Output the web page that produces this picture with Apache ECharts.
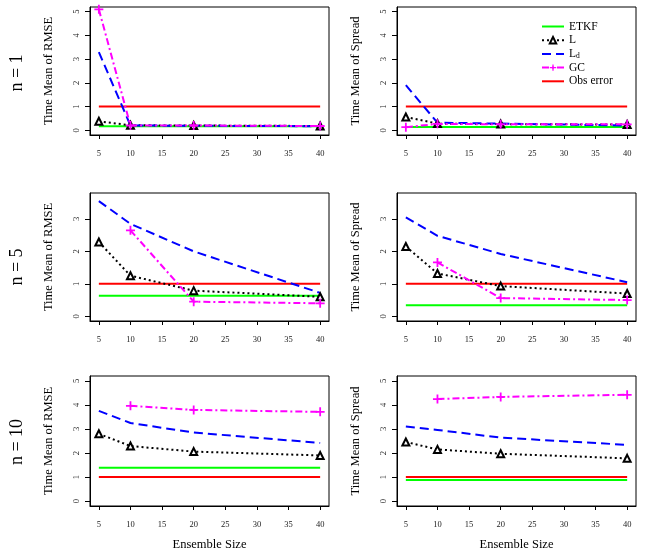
<!DOCTYPE html>
<html>
<head>
	<meta charset="UTF-8">
	<title>Time mean of RMSE and spread</title>
	<script src="https://cdn.jsdelivr.net/npm/echarts@6/dist/echarts.min.js"></script>
	<style>
		html, body { margin: 0; padding: 0; background: #fff; }
		#main { width: 654px; height: 558px; }
	</style>
</head>
<body>
<div id="main"></div>
<script>
	// ensemble sizes on the x axis
	var ensembleSizes = [5, 10, 20, 40];
	var xTicks = [5, 10, 15, 20, 25, 30, 35, 40];

	// panel order: RMSE n=1, Spread n=1, RMSE n=5, Spread n=5, RMSE n=10, Spread n=10
	var panelTitles = ['Time Mean of RMSE', 'Time Mean of Spread'];
	var rowLabels = ['n = 1', 'n = 5', 'n = 10'];

	var etkf = [0.17, 0.14, 0.63, 0.34, 1.39, 0.875];
	var obsError = [1, 1, 1, 1, 1, 1];

	var locL = [
		[0.38, 0.21, 0.20, 0.18],
		[0.56, 0.28, 0.26, 0.24],
		[2.29, 1.25, 0.79, 0.60],
		[2.15, 1.32, 0.93, 0.70],
		[2.80, 2.29, 2.06, 1.90],
		[2.46, 2.15, 1.97, 1.78]
	];
	var locLd = [
		[3.30, 0.20, 0.19, 0.17],
		[1.90, 0.32, 0.28, 0.20],
		[3.55, 2.85, 2.00, 0.72],
		[3.05, 2.48, 1.92, 1.05],
		[3.75, 3.25, 2.85, 2.42],
		[3.10, 2.96, 2.64, 2.34]
	];
	var locGC = [
		[5.10, 0.20, 0.20, 0.18],
		[0.13, 0.27, 0.25, 0.25],
		[null, 2.65, 0.45, 0.40],
		[null, 1.66, 0.56, 0.50],
		[null, 3.96, 3.79, 3.71],
		[null, 4.24, 4.33, 4.42]
	];

	var yTicksWide = [0, 1, 2, 3, 4, 5];
	var yTicksMid = [0, 1, 2, 3];

	var serif = 'Liberation Serif';
	var plusPath = 'path://M4,0 H6 V4 H10 V6 H6 V10 H4 V6 H0 V4 H4 Z';

	var grids = [], xAxes = [], yAxes = [], series = [];
	var lefts = [90, 397];
	var tops = [7, 193, 376];
	var heights = [128, 128, 130];

	function pairs(vals) {
		var out = [];
		for (var i = 0; i < ensembleSizes.length; i++) {
			if (vals[i] != null) out.push([ensembleSizes[i], vals[i]]);
		}
		return out;
	}

	for (var p = 0; p < 6; p++) {
		var row = Math.floor(p / 2), col = p % 2;
		var ticks = row === 1 ? yTicksMid : yTicksWide;
		grids.push({
			left: lefts[col], top: tops[row], width: 239, height: heights[row],
			show: true, borderColor: '#000', borderWidth: 1, backgroundColor: 'transparent'
		});
		xAxes.push({
			type: 'value', gridIndex: p, min: 3.6, max: 41.4,
			name: row === 2 ? 'Ensemble Size' : '',
			nameLocation: 'middle', nameGap: 32,
			nameTextStyle: { fontFamily: serif, fontSize: 12.5, color: '#000' },
			axisLine: { show: true, onZero: false, lineStyle: { color: '#000', width: 1 } },
			axisTick: { show: true, length: 4, customValues: xTicks, lineStyle: { color: '#000' } },
			axisLabel: { customValues: xTicks, margin: 14, fontFamily: serif, fontSize: 8.5, color: '#222' },
			splitLine: { show: false }
		});
		yAxes.push({
			type: 'value', gridIndex: p,
			min: row === 1 ? -0.146 : -0.2,
			max: row === 1 ? 3.8 : 5.2,
			name: panelTitles[col],
			nameLocation: 'middle', nameGap: 35,
			nameTextStyle: { fontFamily: serif, fontSize: 12.5, color: '#000' },
			axisLine: { show: true, onZero: false, lineStyle: { color: '#000', width: 1 } },
			axisTick: { show: true, length: 5, customValues: ticks, lineStyle: { color: '#000' } },
			axisLabel: { customValues: ticks, rotate: 90, margin: 9, fontFamily: serif, fontSize: 8.5, color: '#222' },
			splitLine: { show: false }
		});

		series.push({
			name: 'ETKF', type: 'line', xAxisIndex: p, yAxisIndex: p,
			data: [[5, etkf[p]], [40, etkf[p]]], symbol: 'none',
			lineStyle: { color: '#00ff00', width: 2 }, itemStyle: { color: '#00ff00' },
			silent: true, z: 2
		});
		series.push({
			name: 'L', type: 'line', xAxisIndex: p, yAxisIndex: p,
			data: pairs(locL[p]), symbol: 'triangle', symbolSize: 7,
			lineStyle: { color: '#000', width: 2, type: [2, 3] },
			itemStyle: { color: '#fff', borderColor: '#000', borderWidth: 2 },
			silent: true, z: 3
		});
		series.push({
			name: 'Ld', type: 'line', xAxisIndex: p, yAxisIndex: p,
			data: pairs(locLd[p]), symbol: 'none',
			lineStyle: { color: '#0000ff', width: 2, type: [9, 5] }, itemStyle: { color: '#0000ff' },
			silent: true, z: 3
		});
		series.push({
			name: 'GC', type: 'line', xAxisIndex: p, yAxisIndex: p,
			data: pairs(locGC[p]), symbol: plusPath, symbolSize: 9,
			lineStyle: { color: '#ff00ff', width: 2, type: [7, 3, 2, 3] }, itemStyle: { color: '#ff00ff' },
			silent: true, z: 4
		});
		series.push({
			name: 'Obs error', type: 'line', xAxisIndex: p, yAxisIndex: p,
			data: [[5, obsError[p]], [40, obsError[p]]], symbol: 'none',
			lineStyle: { color: '#ff0000', width: 2 }, itemStyle: { color: '#ff0000' },
			silent: true, z: 2
		});
	}

	var rowY = [73, 267, 442];
	var graphics = rowLabels.map(function (t, i) {
		return {
			type: 'text', x: 17, y: rowY[i], rotation: Math.PI / 2,
			style: { text: t, font: '18px "' + serif + '"', fill: '#000', textAlign: 'center', textVerticalAlign: 'middle' }
		};
	});

	var myChart = echarts.init(document.getElementById('main'));
	var option = {
		animation: false,
		backgroundColor: '#fff',
		grid: grids,
		xAxis: xAxes,
		yAxis: yAxes,
		series: series,
		graphic: graphics,
		legend: {
			// lines without markers get an invisible legend symbol
			data: [
				{ name: 'ETKF', itemStyle: { opacity: 0 } },
				{ name: 'L' },
				{ name: 'Ld', itemStyle: { opacity: 0 } },
				{ name: 'GC' },
				{ name: 'Obs error', itemStyle: { opacity: 0 } }
			],
			orient: 'vertical', left: 536, top: 15,
			itemWidth: 22, itemHeight: 8, itemGap: 0.7,
			selectedMode: false,
			textStyle: {
				fontFamily: serif, fontSize: 11.5, color: '#000', lineHeight: 13,
				rich: { sub: { fontFamily: serif, fontSize: 7.5, lineHeight: 13, verticalAlign: 'bottom', padding: [5, 0, 0, 0] } }
			},
			formatter: function (name) {
				return name === 'Ld' ? 'L{sub|d}' : name;
			}
		}
	};
	myChart.setOption(option);
</script>
</body>
</html>
